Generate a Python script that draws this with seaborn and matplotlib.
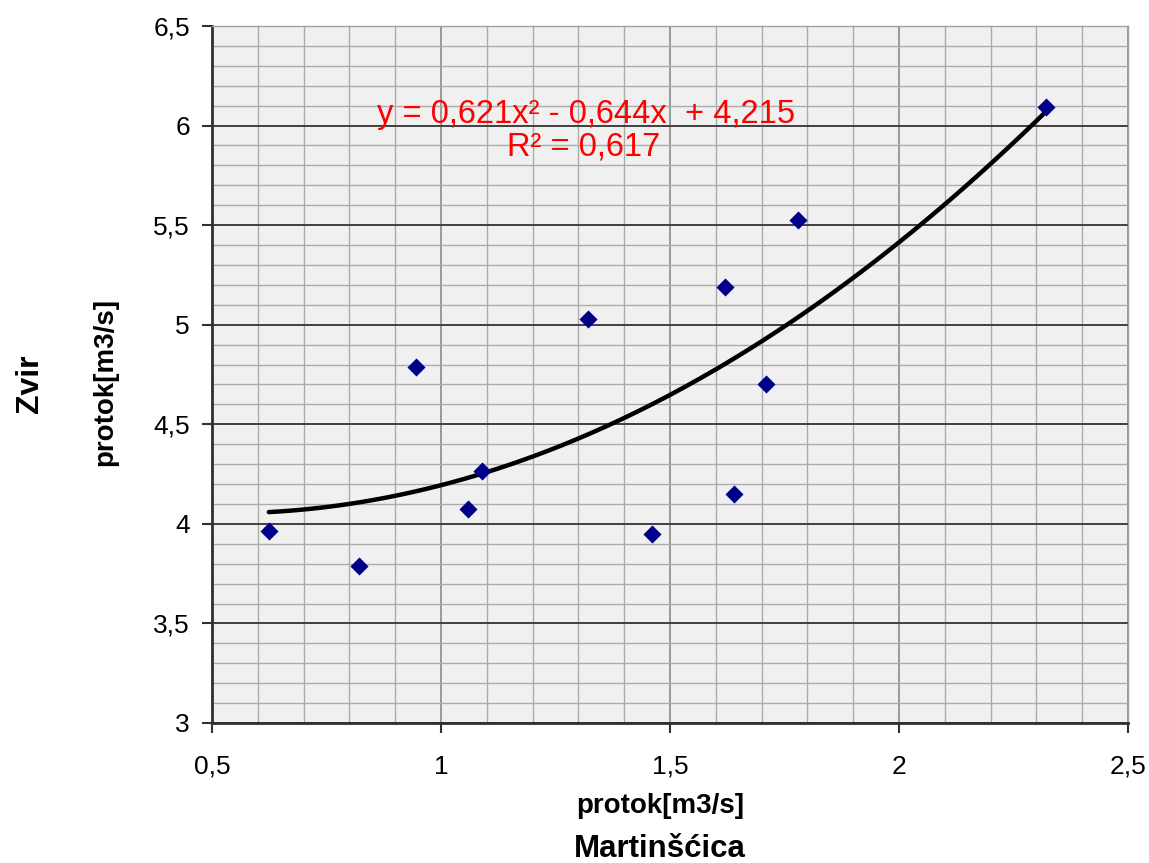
import numpy as np
import pandas as pd
import matplotlib
matplotlib.use("Agg")
import matplotlib.pyplot as plt
from matplotlib.ticker import MultipleLocator, FuncFormatter
import seaborn as sns

# Data
martinscica = [0.624, 0.821, 0.946, 1.058, 1.089, 1.320, 1.460, 1.619, 1.639, 1.710, 1.779, 2.320]
zvir = [3.965, 3.789, 4.790, 4.074, 4.263, 5.030, 3.951, 5.191, 4.151, 4.702, 5.528, 6.094]
equation_text = "y = 0,621x² - 0,644x  + 4,215"
r2_text = "R² = 0,617"

df = pd.DataFrame({"x": martinscica, "y": zvir})

sns.set_style("white")
plt.rcParams["font.family"] = ["Liberation Sans", "DejaVu Sans"]
plt.rcParams["text.color"] = "black"

fig = plt.figure(figsize=(11.49, 8.63), dpi=100)
ax = fig.add_axes([212 / 1149, 1 - 723 / 863, (1128 - 212) / 1149, (723 - 26) / 863])
ax.set_facecolor("#f0f0f0")

ax.set_xlim(0.5, 2.5)
ax.set_ylim(3, 6.5)
ax.xaxis.set_major_locator(MultipleLocator(0.5))
ax.xaxis.set_minor_locator(MultipleLocator(0.1))
ax.yaxis.set_major_locator(MultipleLocator(0.5))
ax.yaxis.set_minor_locator(MultipleLocator(0.1))
fmt = FuncFormatter(lambda v, p: ("%g" % v).replace(".", ","))
ax.xaxis.set_major_formatter(fmt)
ax.yaxis.set_major_formatter(fmt)

ax.grid(which="minor", axis="both", color="#ababab", linewidth=1.0)
ax.grid(which="major", axis="x", color="#8a8a8a", linewidth=1.2)
ax.grid(which="major", axis="y", color="#404040", linewidth=1.4)
ax.set_axisbelow(True)

ax.tick_params(which="major", direction="out", length=7, width=1.5, color="#303030",
               labelsize=19, labelcolor="black", left=True, bottom=True)
ax.tick_params(axis="x", which="major", pad=16)
ax.tick_params(axis="y", which="major", pad=9)
ax.tick_params(which="minor", length=0)

for s in ["left", "bottom"]:
    ax.spines[s].set_color("#303030")
    ax.spines[s].set_linewidth(2)
for s in ["top", "right"]:
    ax.spines[s].set_color("#a0a0a0")
    ax.spines[s].set_linewidth(1.0)

sns.regplot(data=df, x="x", y="y", order=2, ci=None, scatter=False, truncate=True,
            line_kws={"color": "black", "linewidth": 3.2}, ax=ax)
sns.scatterplot(data=df, x="x", y="y", marker="D", s=85, color="#00008b",
                edgecolor="#00008b", linewidth=0, ax=ax, zorder=5)
ax.set_xlabel("")
ax.set_ylabel("")

fig.text(586 / 1149, 1 - 123 / 863, equation_text, color="#ff0000", fontsize=23.5,
         ha="center", va="baseline")
fig.text(584 / 1149, 1 - 155 / 863, r2_text, color="#ff0000", fontsize=23.5,
         ha="center", va="baseline")

fig.text(660 / 1149, 1 - 813 / 863, "protok[m3/s]", fontsize=20, fontweight="bold",
         color="black", ha="center", va="baseline")
fig.text(660 / 1149, 1 - 857 / 863, "Martinšćica", fontsize=22.5, fontweight="bold",
         color="black", ha="center", va="baseline")
fig.text(30 / 1149, 1 - 384 / 863, "Zvir", fontsize=23, fontweight="bold",
         color="black", ha="center", va="center", rotation=90)
fig.text(105 / 1149, 1 - 382 / 863, "protok[m3/s]", fontsize=20, fontweight="bold",
         color="black", ha="center", va="center", rotation=90)

fig.savefig("out.png", dpi=100, facecolor="white")
